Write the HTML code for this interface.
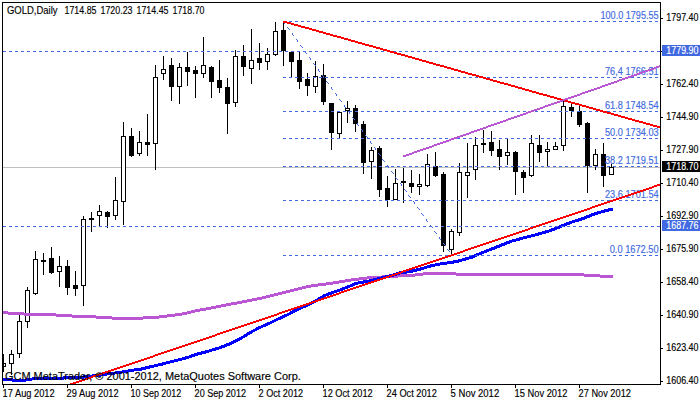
<!DOCTYPE html>
<html><head><meta charset="utf-8"><style>html,body{margin:0;padding:0;background:#fff;width:700px;height:402px;overflow:hidden}</style></head>
<body><svg width="700" height="402" viewBox="0 0 700 402" style="display:block">
<rect x="0" y="0" width="700" height="402" fill="#fff"/>
<defs><clipPath id="ca"><rect x="3" y="3" width="657" height="381"/></clipPath></defs>
<rect x="3" y="167" width="657" height="1" fill="#c0c0c0" shape-rendering="crispEdges"/>
<g shape-rendering="crispEdges" clip-path="url(#ca)">
<rect x="3" y="354" width="1" height="18" fill="#000"/>
<rect x="3" y="363" width="3" height="4" fill="#000"/>
<rect x="4" y="364" width="1" height="2" fill="#fff"/>
<rect x="11" y="350" width="1" height="25" fill="#000"/>
<rect x="9" y="354" width="5" height="10" fill="#000"/>
<rect x="10" y="355" width="3" height="8" fill="#fff"/>
<rect x="19" y="315" width="1" height="43" fill="#000"/>
<rect x="17" y="321" width="5" height="33" fill="#000"/>
<rect x="18" y="322" width="3" height="31" fill="#fff"/>
<rect x="27" y="287" width="1" height="41" fill="#000"/>
<rect x="25" y="290" width="5" height="32" fill="#000"/>
<rect x="26" y="291" width="3" height="30" fill="#fff"/>
<rect x="35" y="251" width="1" height="44" fill="#000"/>
<rect x="33" y="259" width="5" height="35" fill="#000"/>
<rect x="34" y="260" width="3" height="33" fill="#fff"/>
<rect x="43" y="253" width="1" height="22" fill="#000"/>
<rect x="41" y="260" width="5" height="2" fill="#000"/>
<rect x="51" y="247" width="1" height="27" fill="#000"/>
<rect x="49" y="258" width="5" height="15" fill="#000"/>
<rect x="59" y="256" width="1" height="31" fill="#000"/>
<rect x="57" y="266" width="5" height="6" fill="#000"/>
<rect x="58" y="267" width="3" height="4" fill="#fff"/>
<rect x="67" y="260" width="1" height="35" fill="#000"/>
<rect x="65" y="266" width="5" height="22" fill="#000"/>
<rect x="75" y="271" width="1" height="25" fill="#000"/>
<rect x="73" y="285" width="5" height="4" fill="#000"/>
<rect x="83" y="216" width="1" height="90" fill="#000"/>
<rect x="81" y="219" width="5" height="67" fill="#000"/>
<rect x="82" y="220" width="3" height="65" fill="#fff"/>
<rect x="91" y="212" width="1" height="20" fill="#000"/>
<rect x="89" y="218" width="5" height="2" fill="#000"/>
<rect x="99" y="205" width="1" height="21" fill="#000"/>
<rect x="97" y="211" width="5" height="5" fill="#000"/>
<rect x="98" y="212" width="3" height="3" fill="#fff"/>
<rect x="107" y="211" width="1" height="17" fill="#000"/>
<rect x="105" y="212" width="5" height="5" fill="#000"/>
<rect x="115" y="177" width="1" height="43" fill="#000"/>
<rect x="113" y="200" width="5" height="16" fill="#000"/>
<rect x="114" y="201" width="3" height="14" fill="#fff"/>
<rect x="123" y="122" width="1" height="103" fill="#000"/>
<rect x="121" y="136" width="5" height="66" fill="#000"/>
<rect x="122" y="137" width="3" height="64" fill="#fff"/>
<rect x="131" y="128" width="1" height="29" fill="#000"/>
<rect x="129" y="136" width="5" height="20" fill="#000"/>
<rect x="139" y="131" width="1" height="25" fill="#000"/>
<rect x="137" y="142" width="5" height="12" fill="#000"/>
<rect x="138" y="143" width="3" height="10" fill="#fff"/>
<rect x="147" y="114" width="1" height="42" fill="#000"/>
<rect x="145" y="142" width="5" height="3" fill="#000"/>
<rect x="155" y="65" width="1" height="105" fill="#000"/>
<rect x="153" y="77" width="5" height="67" fill="#000"/>
<rect x="154" y="78" width="3" height="65" fill="#fff"/>
<rect x="163" y="56" width="1" height="24" fill="#000"/>
<rect x="161" y="69" width="5" height="5" fill="#000"/>
<rect x="162" y="70" width="3" height="3" fill="#fff"/>
<rect x="171" y="58" width="1" height="43" fill="#000"/>
<rect x="169" y="65" width="5" height="22" fill="#000"/>
<rect x="179" y="63" width="1" height="41" fill="#000"/>
<rect x="177" y="67" width="5" height="20" fill="#000"/>
<rect x="178" y="68" width="3" height="18" fill="#fff"/>
<rect x="187" y="52" width="1" height="34" fill="#000"/>
<rect x="185" y="67" width="5" height="5" fill="#000"/>
<rect x="195" y="66" width="1" height="32" fill="#000"/>
<rect x="193" y="70" width="5" height="4" fill="#000"/>
<rect x="203" y="37" width="1" height="41" fill="#000"/>
<rect x="201" y="65" width="5" height="9" fill="#000"/>
<rect x="202" y="66" width="3" height="7" fill="#fff"/>
<rect x="211" y="66" width="1" height="32" fill="#000"/>
<rect x="209" y="67" width="5" height="15" fill="#000"/>
<rect x="219" y="60" width="1" height="33" fill="#000"/>
<rect x="217" y="80" width="5" height="8" fill="#000"/>
<rect x="227" y="78" width="1" height="56" fill="#000"/>
<rect x="225" y="87" width="5" height="17" fill="#000"/>
<rect x="235" y="50" width="1" height="57" fill="#000"/>
<rect x="233" y="56" width="5" height="47" fill="#000"/>
<rect x="234" y="57" width="3" height="45" fill="#fff"/>
<rect x="243" y="45" width="1" height="31" fill="#000"/>
<rect x="241" y="56" width="5" height="11" fill="#000"/>
<rect x="251" y="29" width="1" height="55" fill="#000"/>
<rect x="249" y="60" width="5" height="9" fill="#000"/>
<rect x="250" y="61" width="3" height="7" fill="#fff"/>
<rect x="259" y="43" width="1" height="27" fill="#000"/>
<rect x="257" y="58" width="5" height="5" fill="#000"/>
<rect x="267" y="48" width="1" height="22" fill="#000"/>
<rect x="265" y="54" width="5" height="8" fill="#000"/>
<rect x="266" y="55" width="3" height="6" fill="#fff"/>
<rect x="275" y="22" width="1" height="34" fill="#000"/>
<rect x="273" y="31" width="5" height="24" fill="#000"/>
<rect x="274" y="32" width="3" height="22" fill="#fff"/>
<rect x="283" y="22" width="1" height="44" fill="#000"/>
<rect x="281" y="30" width="5" height="21" fill="#000"/>
<rect x="291" y="51" width="1" height="26" fill="#000"/>
<rect x="289" y="52" width="5" height="10" fill="#000"/>
<rect x="299" y="52" width="1" height="37" fill="#000"/>
<rect x="297" y="60" width="5" height="22" fill="#000"/>
<rect x="307" y="73" width="1" height="23" fill="#000"/>
<rect x="305" y="79" width="5" height="7" fill="#000"/>
<rect x="315" y="61" width="1" height="32" fill="#000"/>
<rect x="313" y="76" width="5" height="11" fill="#000"/>
<rect x="314" y="77" width="3" height="9" fill="#fff"/>
<rect x="323" y="64" width="1" height="41" fill="#000"/>
<rect x="321" y="75" width="5" height="27" fill="#000"/>
<rect x="331" y="103" width="1" height="47" fill="#000"/>
<rect x="329" y="103" width="5" height="30" fill="#000"/>
<rect x="339" y="112" width="1" height="26" fill="#000"/>
<rect x="337" y="112" width="5" height="22" fill="#000"/>
<rect x="338" y="113" width="3" height="20" fill="#fff"/>
<rect x="347" y="101" width="1" height="22" fill="#000"/>
<rect x="345" y="108" width="5" height="3" fill="#000"/>
<rect x="346" y="109" width="3" height="1" fill="#fff"/>
<rect x="355" y="105" width="1" height="27" fill="#000"/>
<rect x="353" y="108" width="5" height="16" fill="#000"/>
<rect x="363" y="121" width="1" height="53" fill="#000"/>
<rect x="361" y="124" width="5" height="39" fill="#000"/>
<rect x="371" y="147" width="1" height="32" fill="#000"/>
<rect x="369" y="150" width="5" height="12" fill="#000"/>
<rect x="370" y="151" width="3" height="10" fill="#fff"/>
<rect x="379" y="146" width="1" height="51" fill="#000"/>
<rect x="377" y="148" width="5" height="42" fill="#000"/>
<rect x="387" y="176" width="1" height="31" fill="#000"/>
<rect x="385" y="188" width="5" height="12" fill="#000"/>
<rect x="395" y="169" width="1" height="31" fill="#000"/>
<rect x="393" y="183" width="5" height="17" fill="#000"/>
<rect x="394" y="184" width="3" height="15" fill="#fff"/>
<rect x="403" y="168" width="1" height="35" fill="#000"/>
<rect x="401" y="181" width="5" height="2" fill="#000"/>
<rect x="411" y="170" width="1" height="23" fill="#000"/>
<rect x="409" y="183" width="5" height="4" fill="#000"/>
<rect x="419" y="174" width="1" height="21" fill="#000"/>
<rect x="417" y="184" width="5" height="3" fill="#000"/>
<rect x="418" y="185" width="3" height="1" fill="#fff"/>
<rect x="427" y="154" width="1" height="33" fill="#000"/>
<rect x="425" y="164" width="5" height="22" fill="#000"/>
<rect x="426" y="165" width="3" height="20" fill="#fff"/>
<rect x="435" y="152" width="1" height="25" fill="#000"/>
<rect x="433" y="166" width="5" height="10" fill="#000"/>
<rect x="443" y="172" width="1" height="80" fill="#000"/>
<rect x="441" y="174" width="5" height="72" fill="#000"/>
<rect x="451" y="229" width="1" height="25" fill="#000"/>
<rect x="449" y="231" width="5" height="19" fill="#000"/>
<rect x="450" y="232" width="3" height="17" fill="#fff"/>
<rect x="459" y="163" width="1" height="73" fill="#000"/>
<rect x="457" y="172" width="5" height="61" fill="#000"/>
<rect x="458" y="173" width="3" height="59" fill="#fff"/>
<rect x="467" y="143" width="1" height="55" fill="#000"/>
<rect x="465" y="172" width="5" height="4" fill="#000"/>
<rect x="466" y="173" width="3" height="2" fill="#fff"/>
<rect x="475" y="137" width="1" height="43" fill="#000"/>
<rect x="473" y="145" width="5" height="25" fill="#000"/>
<rect x="474" y="146" width="3" height="23" fill="#fff"/>
<rect x="483" y="130" width="1" height="23" fill="#000"/>
<rect x="481" y="143" width="5" height="2" fill="#000"/>
<rect x="491" y="131" width="1" height="25" fill="#000"/>
<rect x="489" y="142" width="5" height="9" fill="#000"/>
<rect x="499" y="140" width="1" height="30" fill="#000"/>
<rect x="497" y="149" width="5" height="8" fill="#000"/>
<rect x="507" y="138" width="1" height="27" fill="#000"/>
<rect x="505" y="152" width="5" height="4" fill="#000"/>
<rect x="506" y="153" width="3" height="2" fill="#fff"/>
<rect x="515" y="151" width="1" height="44" fill="#000"/>
<rect x="513" y="152" width="5" height="20" fill="#000"/>
<rect x="523" y="170" width="1" height="23" fill="#000"/>
<rect x="521" y="172" width="5" height="6" fill="#000"/>
<rect x="531" y="135" width="1" height="42" fill="#000"/>
<rect x="529" y="143" width="5" height="33" fill="#000"/>
<rect x="530" y="144" width="3" height="31" fill="#fff"/>
<rect x="539" y="135" width="1" height="27" fill="#000"/>
<rect x="537" y="145" width="5" height="8" fill="#000"/>
<rect x="547" y="142" width="1" height="25" fill="#000"/>
<rect x="545" y="149" width="5" height="3" fill="#000"/>
<rect x="546" y="150" width="3" height="1" fill="#fff"/>
<rect x="555" y="142" width="1" height="8" fill="#000"/>
<rect x="553" y="146" width="5" height="4" fill="#000"/>
<rect x="554" y="147" width="3" height="2" fill="#fff"/>
<rect x="563" y="100" width="1" height="51" fill="#000"/>
<rect x="561" y="106" width="5" height="40" fill="#000"/>
<rect x="562" y="107" width="3" height="38" fill="#fff"/>
<rect x="571" y="103" width="1" height="14" fill="#000"/>
<rect x="569" y="107" width="5" height="4" fill="#000"/>
<rect x="579" y="106" width="1" height="21" fill="#000"/>
<rect x="577" y="111" width="5" height="14" fill="#000"/>
<rect x="587" y="122" width="1" height="71" fill="#000"/>
<rect x="585" y="123" width="5" height="43" fill="#000"/>
<rect x="595" y="149" width="1" height="21" fill="#000"/>
<rect x="593" y="154" width="5" height="12" fill="#000"/>
<rect x="594" y="155" width="3" height="10" fill="#fff"/>
<rect x="603" y="143" width="1" height="44" fill="#000"/>
<rect x="601" y="154" width="5" height="22" fill="#000"/>
<rect x="611" y="164" width="1" height="11" fill="#000"/>
<rect x="609" y="167" width="5" height="8" fill="#000"/>
<rect x="610" y="168" width="3" height="6" fill="#fff"/>
</g>
<path d="M3 311h5v3h-5zM8 312h16v3h-16zM24 313h32v3h-32zM56 314h16v3h-16zM72 315h24v3h-24zM96 316h16v3h-16zM112 317h31v3h-31zM143 316h16v3h-16zM159 315h8v3h-8zM167 314h8v3h-8zM175 313h7v3h-7zM182 312h5v3h-5zM187 311h4v3h-4zM191 310h4v3h-4zM195 309h5v3h-5zM200 308h6v3h-6zM206 307h5v3h-5zM211 306h5v3h-5zM216 305h5v3h-5zM221 304h5v3h-5zM226 303h5v3h-5zM231 302h6v3h-6zM237 301h5v3h-5zM242 300h5v3h-5zM247 299h5v3h-5zM252 298h5v3h-5zM257 297h5v3h-5zM262 296h4v3h-4zM266 295h4v3h-4zM270 294h4v3h-4zM274 293h4v3h-4zM278 292h4v3h-4zM282 291h4v3h-4zM286 290h4v3h-4zM290 289h4v3h-4zM294 288h4v3h-4zM298 287h4v3h-4zM302 286h4v3h-4zM306 285h5v3h-5zM311 284h7v3h-7zM318 283h8v3h-8zM326 282h7v3h-7zM333 281h6v3h-6zM339 280h6v3h-6zM345 279h6v3h-6zM351 278h8v3h-8zM359 277h8v3h-8zM367 276h15v3h-15zM382 275h16v3h-16zM398 274h17v3h-17zM415 273h8v3h-8zM423 272h33v3h-33zM456 273h128v3h-128zM584 274h16v3h-16zM600 275h13v3h-13z" fill="#ba55d3"/>
<path d="M3 378h9v3h-9zM12 378h1v4h-1zM13 379h13v3h-13zM26 378h6v3h-6zM32 377h31v3h-31zM63 376h1v4h-1zM64 376h19v3h-19zM83 375h1v4h-1zM84 375h8v3h-8zM92 374h1v4h-1zM93 374h7v3h-7zM100 373h1v4h-1zM101 373h6v3h-6zM107 372h8v3h-8zM115 371h7v3h-7zM122 370h6v3h-6zM128 369h6v3h-6zM134 368h7v3h-7zM141 367h1v4h-1zM142 367h3v3h-3zM145 366h1v4h-1zM146 366h3v3h-3zM149 365h1v4h-1zM150 365h4v3h-4zM154 364h4v3h-4zM158 363h4v3h-4zM162 362h1v4h-1zM163 362h3v3h-3zM166 361h4v3h-4zM170 360h4v3h-4zM174 359h4v3h-4zM178 358h4v3h-4zM182 357h3v3h-3zM185 356h1v4h-1zM186 356h3v3h-3zM189 355h2v3h-2zM191 354h1v4h-1zM192 354h2v3h-2zM194 353h1v4h-1zM195 353h2v3h-2zM197 352h1v4h-1zM198 352h3v3h-3zM201 351h1v4h-1zM202 351h3v3h-3zM205 350h1v4h-1zM206 350h3v3h-3zM209 349h3v3h-3zM212 348h3v3h-3zM215 347h1v4h-1zM216 347h3v3h-3zM219 346h2v3h-2zM221 345h1v4h-1zM222 345h2v3h-2zM224 344h1v4h-1zM225 344h1v3h-1zM226 343h1v4h-1zM227 343h2v3h-2zM229 342h1v4h-1zM230 342h1v3h-1zM231 341h1v4h-1zM232 341h1v3h-1zM233 340h1v4h-1zM234 340h1v3h-1zM235 339h1v4h-1zM236 339h1v3h-1zM237 338h1v4h-1zM238 338h1v3h-1zM239 337h1v4h-1zM240 337h1v3h-1zM241 336h1v4h-1zM242 336h1v3h-1zM243 335h1v3h-1zM244 334h1v4h-1zM245 334h1v3h-1zM246 333h1v4h-1zM247 332h1v4h-1zM248 332h1v3h-1zM249 331h1v4h-1zM250 331h1v3h-1zM251 330h1v4h-1zM252 330h1v3h-1zM253 329h2v3h-2zM255 328h1v3h-1zM256 327h1v4h-1zM257 327h1v3h-1zM258 326h1v4h-1zM259 326h2v3h-2zM261 325h2v3h-2zM263 324h2v3h-2zM265 323h1v4h-1zM266 323h1v3h-1zM267 322h1v4h-1zM268 322h2v3h-2zM270 321h2v3h-2zM272 320h2v3h-2zM274 319h2v3h-2zM276 318h2v3h-2zM278 317h2v3h-2zM280 316h1v4h-1zM281 316h1v3h-1zM282 315h1v4h-1zM283 315h1v3h-1zM284 314h1v4h-1zM285 314h2v3h-2zM287 313h2v3h-2zM289 312h1v3h-1zM290 311h1v4h-1zM291 311h1v3h-1zM292 310h1v4h-1zM293 310h1v3h-1zM294 309h1v4h-1zM295 309h1v3h-1zM296 308h1v4h-1zM297 308h1v3h-1zM298 307h1v4h-1zM299 307h2v3h-2zM301 306h2v3h-2zM303 305h2v3h-2zM305 304h1v4h-1zM306 304h1v3h-1zM307 303h1v4h-1zM308 303h1v3h-1zM309 302h1v4h-1zM310 302h1v3h-1zM311 301h1v4h-1zM312 301h1v3h-1zM313 300h1v4h-1zM314 300h1v3h-1zM315 299h1v4h-1zM316 299h1v3h-1zM317 298h1v4h-1zM318 297h1v4h-1zM319 297h1v3h-1zM320 296h1v4h-1zM321 296h1v3h-1zM322 295h1v4h-1zM323 294h1v4h-1zM324 294h2v3h-2zM326 293h2v3h-2zM328 292h1v4h-1zM329 292h2v3h-2zM331 291h1v4h-1zM332 291h2v3h-2zM334 290h3v3h-3zM337 289h3v3h-3zM340 288h2v3h-2zM342 287h1v4h-1zM343 287h2v3h-2zM345 286h2v3h-2zM347 285h1v4h-1zM348 285h2v3h-2zM350 284h2v3h-2zM352 283h1v4h-1zM353 283h1v3h-1zM354 282h1v4h-1zM355 282h3v3h-3zM358 281h5v3h-5zM363 280h1v4h-1zM364 280h5v3h-5zM369 279h4v3h-4zM373 278h1v4h-1zM374 278h3v3h-3zM377 277h1v4h-1zM378 277h3v3h-3zM381 276h1v4h-1zM382 276h3v3h-3zM385 275h1v4h-1zM386 275h3v3h-3zM389 274h1v4h-1zM390 274h3v3h-3zM393 273h1v4h-1zM394 273h2v3h-2zM396 272h1v4h-1zM397 272h2v3h-2zM399 271h1v4h-1zM400 271h7v3h-7zM407 270h5v3h-5zM412 269h1v4h-1zM413 269h3v3h-3zM416 268h1v4h-1zM417 268h3v3h-3zM420 267h1v4h-1zM421 267h3v3h-3zM424 266h3v3h-3zM427 265h3v3h-3zM430 264h1v4h-1zM431 264h4v3h-4zM435 263h5v3h-5zM440 262h7v3h-7zM447 261h6v3h-6zM453 260h1v4h-1zM454 260h4v3h-4zM458 259h1v4h-1zM459 259h3v3h-3zM462 258h3v3h-3zM465 257h1v4h-1zM466 257h3v3h-3zM469 256h3v3h-3zM472 255h1v4h-1zM473 255h1v3h-1zM474 254h1v4h-1zM475 254h1v3h-1zM476 253h1v4h-1zM477 253h2v3h-2zM479 252h2v3h-2zM481 251h1v4h-1zM482 251h2v3h-2zM484 250h2v3h-2zM486 249h1v4h-1zM487 249h2v3h-2zM489 248h2v3h-2zM491 247h1v4h-1zM492 247h2v3h-2zM494 246h1v4h-1zM495 246h1v3h-1zM496 245h1v4h-1zM497 245h2v3h-2zM499 244h1v4h-1zM500 244h1v3h-1zM501 243h1v4h-1zM502 243h2v3h-2zM504 242h1v4h-1zM505 242h1v3h-1zM506 241h1v4h-1zM507 241h2v3h-2zM509 240h1v4h-1zM510 240h2v3h-2zM512 239h4v3h-4zM516 238h3v3h-3zM519 237h1v4h-1zM520 237h3v3h-3zM523 236h4v3h-4zM527 235h4v3h-4zM531 234h4v3h-4zM535 233h3v3h-3zM538 232h1v4h-1zM539 232h3v3h-3zM542 231h3v3h-3zM545 230h1v4h-1zM546 230h3v3h-3zM549 229h2v3h-2zM551 228h1v4h-1zM552 228h2v3h-2zM554 227h1v4h-1zM555 227h1v3h-1zM556 226h1v4h-1zM557 226h2v3h-2zM559 225h1v4h-1zM560 225h1v3h-1zM561 224h1v4h-1zM562 224h2v3h-2zM564 223h1v4h-1zM565 223h1v3h-1zM566 222h1v4h-1zM567 222h2v3h-2zM569 221h1v4h-1zM570 221h2v3h-2zM572 220h3v3h-3zM575 219h3v3h-3zM578 218h1v4h-1zM579 218h2v3h-2zM581 217h1v4h-1zM582 217h2v3h-2zM584 216h1v4h-1zM585 216h1v3h-1zM586 215h1v4h-1zM587 215h2v3h-2zM589 214h1v4h-1zM590 214h1v3h-1zM591 213h1v4h-1zM592 213h2v3h-2zM594 212h1v4h-1zM595 212h2v3h-2zM597 211h1v4h-1zM598 211h3v3h-3zM601 210h3v3h-3zM604 209h1v4h-1zM605 209h3v3h-3zM608 208h1v4h-1zM609 208h4v3h-4z" fill="#0000ff"/>
<g clip-path="url(#ca)" shape-rendering="crispEdges">
<line x1="3" y1="51.5" x2="660" y2="51.5" stroke="#4169e1" stroke-width="1" stroke-dasharray="3 3" shape-rendering="crispEdges"/>
<line x1="3" y1="226.5" x2="660" y2="226.5" stroke="#4169e1" stroke-width="1" stroke-dasharray="3 3" shape-rendering="crispEdges"/>
<line x1="283" y1="21.5" x2="660" y2="21.5" stroke="#4169e1" stroke-width="1" stroke-dasharray="3 3" shape-rendering="crispEdges"/>
<line x1="283" y1="77.5" x2="660" y2="77.5" stroke="#4169e1" stroke-width="1" stroke-dasharray="3 3" shape-rendering="crispEdges"/>
<line x1="283" y1="111.5" x2="660" y2="111.5" stroke="#4169e1" stroke-width="1" stroke-dasharray="3 3" shape-rendering="crispEdges"/>
<line x1="283" y1="138.5" x2="660" y2="138.5" stroke="#4169e1" stroke-width="1" stroke-dasharray="3 3" shape-rendering="crispEdges"/>
<line x1="283" y1="166.5" x2="660" y2="166.5" stroke="#4169e1" stroke-width="1" stroke-dasharray="3 3" shape-rendering="crispEdges"/>
<line x1="283" y1="200.5" x2="660" y2="200.5" stroke="#4169e1" stroke-width="1" stroke-dasharray="3 3" shape-rendering="crispEdges"/>
<line x1="283" y1="255.5" x2="660" y2="255.5" stroke="#4169e1" stroke-width="1" stroke-dasharray="3 3" shape-rendering="crispEdges"/>
<path d="M283 21h1v1h-1zM284 22h1v1h-1zM284 23h1v1h-1zM287 27h1v1h-1zM288 28h1v1h-1zM289 29h1v1h-1zM292 33h1v1h-1zM292 34h1v1h-1zM293 35h1v1h-1zM296 39h1v1h-1zM297 40h1v1h-1zM297 41h1v1h-1zM300 45h1v1h-1zM301 46h1v1h-1zM302 47h1v1h-1zM305 51h1v1h-1zM305 52h1v1h-1zM306 53h1v1h-1zM309 57h1v1h-1zM310 58h1v1h-1zM310 59h1v1h-1zM313 63h1v1h-1zM314 64h1v1h-1zM315 65h1v1h-1zM318 69h1v1h-1zM318 70h1v1h-1zM319 71h1v1h-1zM322 75h1v1h-1zM323 76h1v1h-1zM323 77h1v1h-1zM326 81h1v1h-1zM327 82h1v1h-1zM328 83h1v1h-1zM331 87h1v1h-1zM331 88h1v1h-1zM332 89h1v1h-1zM335 93h1v1h-1zM336 94h1v1h-1zM336 95h1v1h-1zM339 99h1v1h-1zM340 100h1v1h-1zM341 101h1v1h-1zM344 105h1v1h-1zM344 106h1v1h-1zM345 107h1v1h-1zM348 111h1v1h-1zM349 112h1v1h-1zM349 113h1v1h-1zM352 117h1v1h-1zM353 118h1v1h-1zM354 119h1v1h-1zM357 123h1v1h-1zM357 124h1v1h-1zM358 125h1v1h-1zM361 129h1v1h-1zM362 130h1v1h-1zM362 131h1v1h-1zM365 135h1v1h-1zM366 136h1v1h-1zM367 137h1v1h-1zM370 141h1v1h-1zM370 142h1v1h-1zM371 143h1v1h-1zM374 147h1v1h-1zM375 148h1v1h-1zM375 149h1v1h-1zM378 153h1v1h-1zM379 154h1v1h-1zM380 155h1v1h-1zM382 159h1v1h-1zM383 160h1v1h-1zM384 161h1v1h-1zM387 165h1v1h-1zM388 166h1v1h-1zM388 167h1v1h-1zM391 171h1v1h-1zM392 172h1v1h-1zM393 173h1v1h-1zM395 177h1v1h-1zM396 178h1v1h-1zM397 179h1v1h-1zM400 183h1v1h-1zM401 184h1v1h-1zM401 185h1v1h-1zM404 189h1v1h-1zM405 190h1v1h-1zM406 191h1v1h-1zM408 195h1v1h-1zM409 196h1v1h-1zM410 197h1v1h-1zM413 201h1v1h-1zM414 202h1v1h-1zM414 203h1v1h-1zM417 207h1v1h-1zM418 208h1v1h-1zM419 209h1v1h-1zM421 213h1v1h-1zM422 214h1v1h-1zM423 215h1v1h-1zM426 219h1v1h-1zM426 220h1v1h-1zM427 221h1v1h-1zM430 225h1v1h-1zM431 226h1v1h-1zM432 227h1v1h-1zM434 231h1v1h-1zM435 232h1v1h-1zM436 233h1v1h-1zM439 237h1v1h-1zM439 238h1v1h-1zM440 239h1v1h-1zM443 243h1v1h-1zM444 244h1v1h-1zM445 245h1v1h-1zM447 249h1v1h-1zM448 250h1v1h-1zM449 251h1v1h-1z" fill="#4169e1"/>
</g>
<g font-family="Liberation Sans, sans-serif"><text x="600.5" y="19" font-size="10" fill="#4169e1" stroke="#4169e1" stroke-width="0.15" textLength="58.10000000000002" lengthAdjust="spacingAndGlyphs" text-anchor="start">100.0 1795.55</text><text x="605" y="75" font-size="10" fill="#4169e1" stroke="#4169e1" stroke-width="0.15" textLength="53.60000000000002" lengthAdjust="spacingAndGlyphs" text-anchor="start">76,4 1766.51</text><text x="605" y="109" font-size="10" fill="#4169e1" stroke="#4169e1" stroke-width="0.15" textLength="53.60000000000002" lengthAdjust="spacingAndGlyphs" text-anchor="start">61.8 1748.54</text><text x="605" y="136" font-size="10" fill="#4169e1" stroke="#4169e1" stroke-width="0.15" textLength="53.60000000000002" lengthAdjust="spacingAndGlyphs" text-anchor="start">50.0 1734.03</text><text x="605" y="164" font-size="10" fill="#4169e1" stroke="#4169e1" stroke-width="0.15" textLength="53.60000000000002" lengthAdjust="spacingAndGlyphs" text-anchor="start">38.2 1719.51</text><text x="605" y="198" font-size="10" fill="#4169e1" stroke="#4169e1" stroke-width="0.15" textLength="53.60000000000002" lengthAdjust="spacingAndGlyphs" text-anchor="start">23,6 1701.54</text><text x="609.7" y="253" font-size="10" fill="#4169e1" stroke="#4169e1" stroke-width="0.15" textLength="48.89999999999998" lengthAdjust="spacingAndGlyphs" text-anchor="start">0.0 1672.50</text></g>
<path d="M283 21h4v2h-4zM287 22h4v2h-4zM291 23h3v2h-3zM294 24h4v2h-4zM298 25h3v2h-3zM301 26h4v2h-4zM305 27h4v2h-4zM309 28h3v2h-3zM312 29h4v2h-4zM316 30h3v2h-3zM319 31h4v2h-4zM323 32h3v2h-3zM326 33h4v2h-4zM330 34h3v2h-3zM333 35h4v2h-4zM337 36h4v2h-4zM341 37h3v2h-3zM344 38h4v2h-4zM348 39h3v2h-3zM351 40h4v2h-4zM355 41h3v2h-3zM358 42h4v2h-4zM362 43h3v2h-3zM365 44h4v2h-4zM369 45h4v2h-4zM373 46h3v2h-3zM376 47h4v2h-4zM380 48h3v2h-3zM383 49h4v2h-4zM387 50h3v2h-3zM390 51h4v2h-4zM394 52h3v2h-3zM397 53h4v2h-4zM401 54h4v2h-4zM405 55h3v2h-3zM408 56h4v2h-4zM412 57h3v2h-3zM415 58h4v2h-4zM419 59h3v2h-3zM422 60h4v2h-4zM426 61h3v2h-3zM429 62h4v2h-4zM433 63h3v2h-3zM436 64h4v2h-4zM440 65h4v2h-4zM444 66h3v2h-3zM447 67h4v2h-4zM451 68h3v2h-3zM454 69h4v2h-4zM458 70h3v2h-3zM461 71h4v2h-4zM465 72h3v2h-3zM468 73h4v2h-4zM472 74h4v2h-4zM476 75h3v2h-3zM479 76h4v2h-4zM483 77h3v2h-3zM486 78h4v2h-4zM490 79h3v2h-3zM493 80h4v2h-4zM497 81h3v2h-3zM500 82h4v2h-4zM504 83h4v2h-4zM508 84h3v2h-3zM511 85h4v2h-4zM515 86h3v2h-3zM518 87h4v2h-4zM522 88h3v2h-3zM525 89h4v2h-4zM529 90h3v2h-3zM532 91h4v2h-4zM536 92h3v2h-3zM539 93h4v2h-4zM543 94h4v2h-4zM547 95h3v2h-3zM550 96h4v2h-4zM554 97h3v2h-3zM557 98h4v2h-4zM561 99h3v2h-3zM564 100h4v2h-4zM568 101h3v2h-3zM571 102h4v2h-4zM575 103h4v2h-4zM579 104h3v2h-3zM582 105h4v2h-4zM586 106h3v2h-3zM589 107h4v2h-4zM593 108h3v2h-3zM596 109h4v2h-4zM600 110h3v2h-3zM603 111h4v2h-4zM607 112h4v2h-4zM611 113h3v2h-3zM614 114h4v2h-4zM618 115h3v2h-3zM621 116h4v2h-4zM625 117h3v2h-3zM628 118h4v2h-4zM632 119h3v2h-3zM635 120h4v2h-4zM639 121h4v2h-4zM643 122h3v2h-3zM646 123h4v2h-4zM650 124h3v2h-3zM653 125h4v2h-4zM657 126h3v2h-3z" fill="#ff0000"/>
<path d="M70 383h3v1h-3zM73 382h3v2h-3zM76 381h3v2h-3zM79 380h3v2h-3zM82 379h3v2h-3zM85 378h3v2h-3zM88 377h3v2h-3zM91 376h2v2h-2zM93 375h3v2h-3zM96 374h3v2h-3zM99 373h3v2h-3zM102 372h3v2h-3zM105 371h3v2h-3zM108 370h3v2h-3zM111 369h3v2h-3zM114 368h3v2h-3zM117 367h3v2h-3zM120 366h3v2h-3zM123 365h3v2h-3zM126 364h3v2h-3zM129 363h3v2h-3zM132 362h3v2h-3zM135 361h3v2h-3zM138 360h3v2h-3zM141 359h3v2h-3zM144 358h3v2h-3zM147 357h3v2h-3zM150 356h3v2h-3zM153 355h2v2h-2zM155 354h3v2h-3zM158 353h3v2h-3zM161 352h3v2h-3zM164 351h3v2h-3zM167 350h3v2h-3zM170 349h3v2h-3zM173 348h3v2h-3zM176 347h3v2h-3zM179 346h3v2h-3zM182 345h3v2h-3zM185 344h3v2h-3zM188 343h3v2h-3zM191 342h3v2h-3zM194 341h3v2h-3zM197 340h3v2h-3zM200 339h3v2h-3zM203 338h3v2h-3zM206 337h3v2h-3zM209 336h3v2h-3zM212 335h3v2h-3zM215 334h2v2h-2zM217 333h3v2h-3zM220 332h3v2h-3zM223 331h3v2h-3zM226 330h3v2h-3zM229 329h3v2h-3zM232 328h3v2h-3zM235 327h3v2h-3zM238 326h3v2h-3zM241 325h3v2h-3zM244 324h3v2h-3zM247 323h3v2h-3zM250 322h3v2h-3zM253 321h3v2h-3zM256 320h3v2h-3zM259 319h3v2h-3zM262 318h3v2h-3zM265 317h3v2h-3zM268 316h3v2h-3zM271 315h3v2h-3zM274 314h3v2h-3zM277 313h2v2h-2zM279 312h3v2h-3zM282 311h3v2h-3zM285 310h3v2h-3zM288 309h3v2h-3zM291 308h3v2h-3zM294 307h3v2h-3zM297 306h3v2h-3zM300 305h3v2h-3zM303 304h3v2h-3zM306 303h3v2h-3zM309 302h3v2h-3zM312 301h3v2h-3zM315 300h3v2h-3zM318 299h3v2h-3zM321 298h3v2h-3zM324 297h3v2h-3zM327 296h3v2h-3zM330 295h3v2h-3zM333 294h3v2h-3zM336 293h3v2h-3zM339 292h2v2h-2zM341 291h3v2h-3zM344 290h3v2h-3zM347 289h3v2h-3zM350 288h3v2h-3zM353 287h3v2h-3zM356 286h3v2h-3zM359 285h3v2h-3zM362 284h3v2h-3zM365 283h3v2h-3zM368 282h3v2h-3zM371 281h3v2h-3zM374 280h3v2h-3zM377 279h3v2h-3zM380 278h3v2h-3zM383 277h3v2h-3zM386 276h3v2h-3zM389 275h3v2h-3zM392 274h3v2h-3zM395 273h3v2h-3zM398 272h3v2h-3zM401 271h2v2h-2zM403 270h3v2h-3zM406 269h3v2h-3zM409 268h3v2h-3zM412 267h3v2h-3zM415 266h3v2h-3zM418 265h3v2h-3zM421 264h3v2h-3zM424 263h3v2h-3zM427 262h3v2h-3zM430 261h3v2h-3zM433 260h3v2h-3zM436 259h3v2h-3zM439 258h3v2h-3zM442 257h3v2h-3zM445 256h3v2h-3zM448 255h3v2h-3zM451 254h3v2h-3zM454 253h3v2h-3zM457 252h3v2h-3zM460 251h3v2h-3zM463 250h2v2h-2zM465 249h3v2h-3zM468 248h3v2h-3zM471 247h3v2h-3zM474 246h3v2h-3zM477 245h3v2h-3zM480 244h3v2h-3zM483 243h3v2h-3zM486 242h3v2h-3zM489 241h3v2h-3zM492 240h3v2h-3zM495 239h3v2h-3zM498 238h3v2h-3zM501 237h3v2h-3zM504 236h3v2h-3zM507 235h3v2h-3zM510 234h3v2h-3zM513 233h3v2h-3zM516 232h3v2h-3zM519 231h3v2h-3zM522 230h3v2h-3zM525 229h3v2h-3zM528 228h2v2h-2zM530 227h3v2h-3zM533 226h3v2h-3zM536 225h3v2h-3zM539 224h3v2h-3zM542 223h3v2h-3zM545 222h3v2h-3zM548 221h3v2h-3zM551 220h3v2h-3zM554 219h3v2h-3zM557 218h3v2h-3zM560 217h3v2h-3zM563 216h3v2h-3zM566 215h3v2h-3zM569 214h3v2h-3zM572 213h3v2h-3zM575 212h3v2h-3zM578 211h3v2h-3zM581 210h3v2h-3zM584 209h3v2h-3zM587 208h3v2h-3zM590 207h2v2h-2zM592 206h3v2h-3zM595 205h3v2h-3zM598 204h3v2h-3zM601 203h3v2h-3zM604 202h3v2h-3zM607 201h3v2h-3zM610 200h3v2h-3zM613 199h3v2h-3zM616 198h3v2h-3zM619 197h3v2h-3zM622 196h3v2h-3zM625 195h3v2h-3zM628 194h3v2h-3zM631 193h3v2h-3zM634 192h3v2h-3zM637 191h3v2h-3zM640 190h3v2h-3zM643 189h3v2h-3zM646 188h3v2h-3zM649 187h3v2h-3zM652 186h2v2h-2zM654 185h3v2h-3zM657 184h3v2h-3z" fill="#ff0000"/>
<path d="M403 155h3v2h-3zM406 154h3v2h-3zM409 153h3v2h-3zM412 152h2v2h-2zM414 151h3v2h-3zM417 150h3v2h-3zM420 149h3v2h-3zM423 148h3v2h-3zM426 147h3v2h-3zM429 146h3v2h-3zM432 145h2v2h-2zM434 144h3v2h-3zM437 143h3v2h-3zM440 142h3v2h-3zM443 141h3v2h-3zM446 140h3v2h-3zM449 139h2v2h-2zM451 138h3v2h-3zM454 137h3v2h-3zM457 136h3v2h-3zM460 135h3v2h-3zM463 134h3v2h-3zM466 133h3v2h-3zM469 132h2v2h-2zM471 131h3v2h-3zM474 130h3v2h-3zM477 129h3v2h-3zM480 128h3v2h-3zM483 127h3v2h-3zM486 126h2v2h-2zM488 125h3v2h-3zM491 124h3v2h-3zM494 123h3v2h-3zM497 122h3v2h-3zM500 121h3v2h-3zM503 120h3v2h-3zM506 119h2v2h-2zM508 118h3v2h-3zM511 117h3v2h-3zM514 116h3v2h-3zM517 115h3v2h-3zM520 114h3v2h-3zM523 113h3v2h-3zM526 112h2v2h-2zM528 111h3v2h-3zM531 110h3v2h-3zM534 109h3v2h-3zM537 108h3v2h-3zM540 107h3v2h-3zM543 106h2v2h-2zM545 105h3v2h-3zM548 104h3v2h-3zM551 103h3v2h-3zM554 102h3v2h-3zM557 101h3v2h-3zM560 100h3v2h-3zM563 99h2v2h-2zM565 98h3v2h-3zM568 97h3v2h-3zM571 96h3v2h-3zM574 95h3v2h-3zM577 94h3v2h-3zM580 93h2v2h-2zM582 92h3v2h-3zM585 91h3v2h-3zM588 90h3v2h-3zM591 89h3v2h-3zM594 88h3v2h-3zM597 87h3v2h-3zM600 86h2v2h-2zM602 85h3v2h-3zM605 84h3v2h-3zM608 83h3v2h-3zM611 82h3v2h-3zM614 81h3v2h-3zM617 80h2v2h-2zM619 79h3v2h-3zM622 78h3v2h-3zM625 77h3v2h-3zM628 76h3v2h-3zM631 75h3v2h-3zM634 74h3v2h-3zM637 73h2v2h-2zM639 72h3v2h-3zM642 71h3v2h-3zM645 70h3v2h-3zM648 69h3v2h-3zM651 68h3v2h-3zM654 67h2v2h-2zM656 66h3v2h-3zM659 65h1v2h-1z" fill="#ba55d3"/>
<g shape-rendering="crispEdges" fill="#000">
<rect x="2" y="2" width="659" height="1"/>
<rect x="2" y="384" width="659" height="1"/>
<rect x="2" y="2" width="1" height="383"/>
<rect x="660" y="2" width="1" height="383"/>
<rect x="661" y="18" width="2" height="1"/>
<rect x="661" y="51" width="2" height="1"/>
<rect x="661" y="84" width="2" height="1"/>
<rect x="661" y="117" width="2" height="1"/>
<rect x="661" y="150" width="2" height="1"/>
<rect x="661" y="183" width="2" height="1"/>
<rect x="661" y="216" width="2" height="1"/>
<rect x="661" y="249" width="2" height="1"/>
<rect x="661" y="282" width="2" height="1"/>
<rect x="661" y="315" width="2" height="1"/>
<rect x="661" y="348" width="2" height="1"/>
<rect x="661" y="381" width="2" height="1"/>
<rect x="3" y="385" width="1" height="3"/>
<rect x="67" y="385" width="1" height="3"/>
<rect x="131" y="385" width="1" height="3"/>
<rect x="195" y="385" width="1" height="3"/>
<rect x="259" y="385" width="1" height="3"/>
<rect x="323" y="385" width="1" height="3"/>
<rect x="387" y="385" width="1" height="3"/>
<rect x="451" y="385" width="1" height="3"/>
<rect x="515" y="385" width="1" height="3"/>
<rect x="579" y="385" width="1" height="3"/>
</g>
<g shape-rendering="crispEdges">
<rect x="662" y="45" width="38" height="11" fill="#4169e1"/>
<rect x="662" y="220" width="38" height="11" fill="#4169e1"/>
<rect x="662" y="161" width="38" height="11" fill="#000"/>
</g>
<g font-family="Liberation Sans, sans-serif"><text x="7" y="14" font-size="10" fill="#000" stroke="#000" stroke-width="0.15" textLength="50.5" lengthAdjust="spacingAndGlyphs" text-anchor="start">GOLD,Daily</text><text x="64.5" y="14" font-size="10" fill="#000" stroke="#000" stroke-width="0.15" textLength="32" lengthAdjust="spacingAndGlyphs" text-anchor="start">1714.85</text><text x="100.5" y="14" font-size="10" fill="#000" stroke="#000" stroke-width="0.15" textLength="32" lengthAdjust="spacingAndGlyphs" text-anchor="start">1720.23</text><text x="136.5" y="14" font-size="10" fill="#000" stroke="#000" stroke-width="0.15" textLength="32" lengthAdjust="spacingAndGlyphs" text-anchor="start">1714.45</text><text x="172.5" y="14" font-size="10" fill="#000" stroke="#000" stroke-width="0.15" textLength="32" lengthAdjust="spacingAndGlyphs" text-anchor="start">1718.70</text><text x="666.3" y="21" font-size="10" fill="#000" stroke="#000" stroke-width="0.15" textLength="32.2" lengthAdjust="spacingAndGlyphs" text-anchor="start">1797.40</text><text x="666.3" y="87" font-size="10" fill="#000" stroke="#000" stroke-width="0.15" textLength="32.2" lengthAdjust="spacingAndGlyphs" text-anchor="start">1762.40</text><text x="666.3" y="120" font-size="10" fill="#000" stroke="#000" stroke-width="0.15" textLength="32.2" lengthAdjust="spacingAndGlyphs" text-anchor="start">1744.90</text><text x="666.3" y="153" font-size="10" fill="#000" stroke="#000" stroke-width="0.15" textLength="32.2" lengthAdjust="spacingAndGlyphs" text-anchor="start">1727.90</text><text x="666.3" y="186" font-size="10" fill="#000" stroke="#000" stroke-width="0.15" textLength="32.2" lengthAdjust="spacingAndGlyphs" text-anchor="start">1710.40</text><text x="666.3" y="219" font-size="10" fill="#000" stroke="#000" stroke-width="0.15" textLength="32.2" lengthAdjust="spacingAndGlyphs" text-anchor="start">1692.90</text><text x="666.3" y="252" font-size="10" fill="#000" stroke="#000" stroke-width="0.15" textLength="32.2" lengthAdjust="spacingAndGlyphs" text-anchor="start">1675.90</text><text x="666.3" y="285" font-size="10" fill="#000" stroke="#000" stroke-width="0.15" textLength="32.2" lengthAdjust="spacingAndGlyphs" text-anchor="start">1658.40</text><text x="666.3" y="318" font-size="10" fill="#000" stroke="#000" stroke-width="0.15" textLength="32.2" lengthAdjust="spacingAndGlyphs" text-anchor="start">1640.90</text><text x="666.3" y="351" font-size="10" fill="#000" stroke="#000" stroke-width="0.15" textLength="32.2" lengthAdjust="spacingAndGlyphs" text-anchor="start">1623.40</text><text x="666.3" y="384" font-size="10" fill="#000" stroke="#000" stroke-width="0.15" textLength="32.2" lengthAdjust="spacingAndGlyphs" text-anchor="start">1606.40</text><text x="666.3" y="54" font-size="10" fill="#fff" stroke="#fff" stroke-width="0.15" textLength="32.2" lengthAdjust="spacingAndGlyphs" text-anchor="start">1779.90</text><text x="666.3" y="170" font-size="10" fill="#fff" stroke="#fff" stroke-width="0.15" textLength="32.2" lengthAdjust="spacingAndGlyphs" text-anchor="start">1718.70</text><text x="666.3" y="229" font-size="10" fill="#fff" stroke="#fff" stroke-width="0.15" textLength="32.2" lengthAdjust="spacingAndGlyphs" text-anchor="start">1687.76</text><text x="2.6" y="397" font-size="10" fill="#000" stroke="#000" stroke-width="0.15" textLength="52" lengthAdjust="spacingAndGlyphs" text-anchor="start">17 Aug 2012</text><text x="66.6" y="397" font-size="10" fill="#000" stroke="#000" stroke-width="0.15" textLength="52" lengthAdjust="spacingAndGlyphs" text-anchor="start">29 Aug 2012</text><text x="130.6" y="397" font-size="10" fill="#000" stroke="#000" stroke-width="0.15" textLength="50.6" lengthAdjust="spacingAndGlyphs" text-anchor="start">10 Sep 2012</text><text x="194.6" y="397" font-size="10" fill="#000" stroke="#000" stroke-width="0.15" textLength="51.4" lengthAdjust="spacingAndGlyphs" text-anchor="start">20 Sep 2012</text><text x="258.6" y="397" font-size="10" fill="#000" stroke="#000" stroke-width="0.15" textLength="44.5" lengthAdjust="spacingAndGlyphs" text-anchor="start">2 Oct 2012</text><text x="322.6" y="397" font-size="10" fill="#000" stroke="#000" stroke-width="0.15" textLength="50" lengthAdjust="spacingAndGlyphs" text-anchor="start">12 Oct 2012</text><text x="386.6" y="397" font-size="10" fill="#000" stroke="#000" stroke-width="0.15" textLength="50.3" lengthAdjust="spacingAndGlyphs" text-anchor="start">24 Oct 2012</text><text x="450.6" y="397" font-size="10" fill="#000" stroke="#000" stroke-width="0.15" textLength="48.6" lengthAdjust="spacingAndGlyphs" text-anchor="start">5 Nov 2012</text><text x="514.6" y="397" font-size="10" fill="#000" stroke="#000" stroke-width="0.15" textLength="52.8" lengthAdjust="spacingAndGlyphs" text-anchor="start">15 Nov 2012</text><text x="578.6" y="397" font-size="10" fill="#000" stroke="#000" stroke-width="0.15" textLength="52.3" lengthAdjust="spacingAndGlyphs" text-anchor="start">27 Nov 2012</text><text x="5" y="380" font-size="10" fill="#000" stroke="#000" stroke-width="0.15" textLength="295.8" lengthAdjust="spacingAndGlyphs" text-anchor="start">GCM MetaTrader, © 2001-2012, MetaQuotes Software Corp.</text></g>
</svg></body></html>
